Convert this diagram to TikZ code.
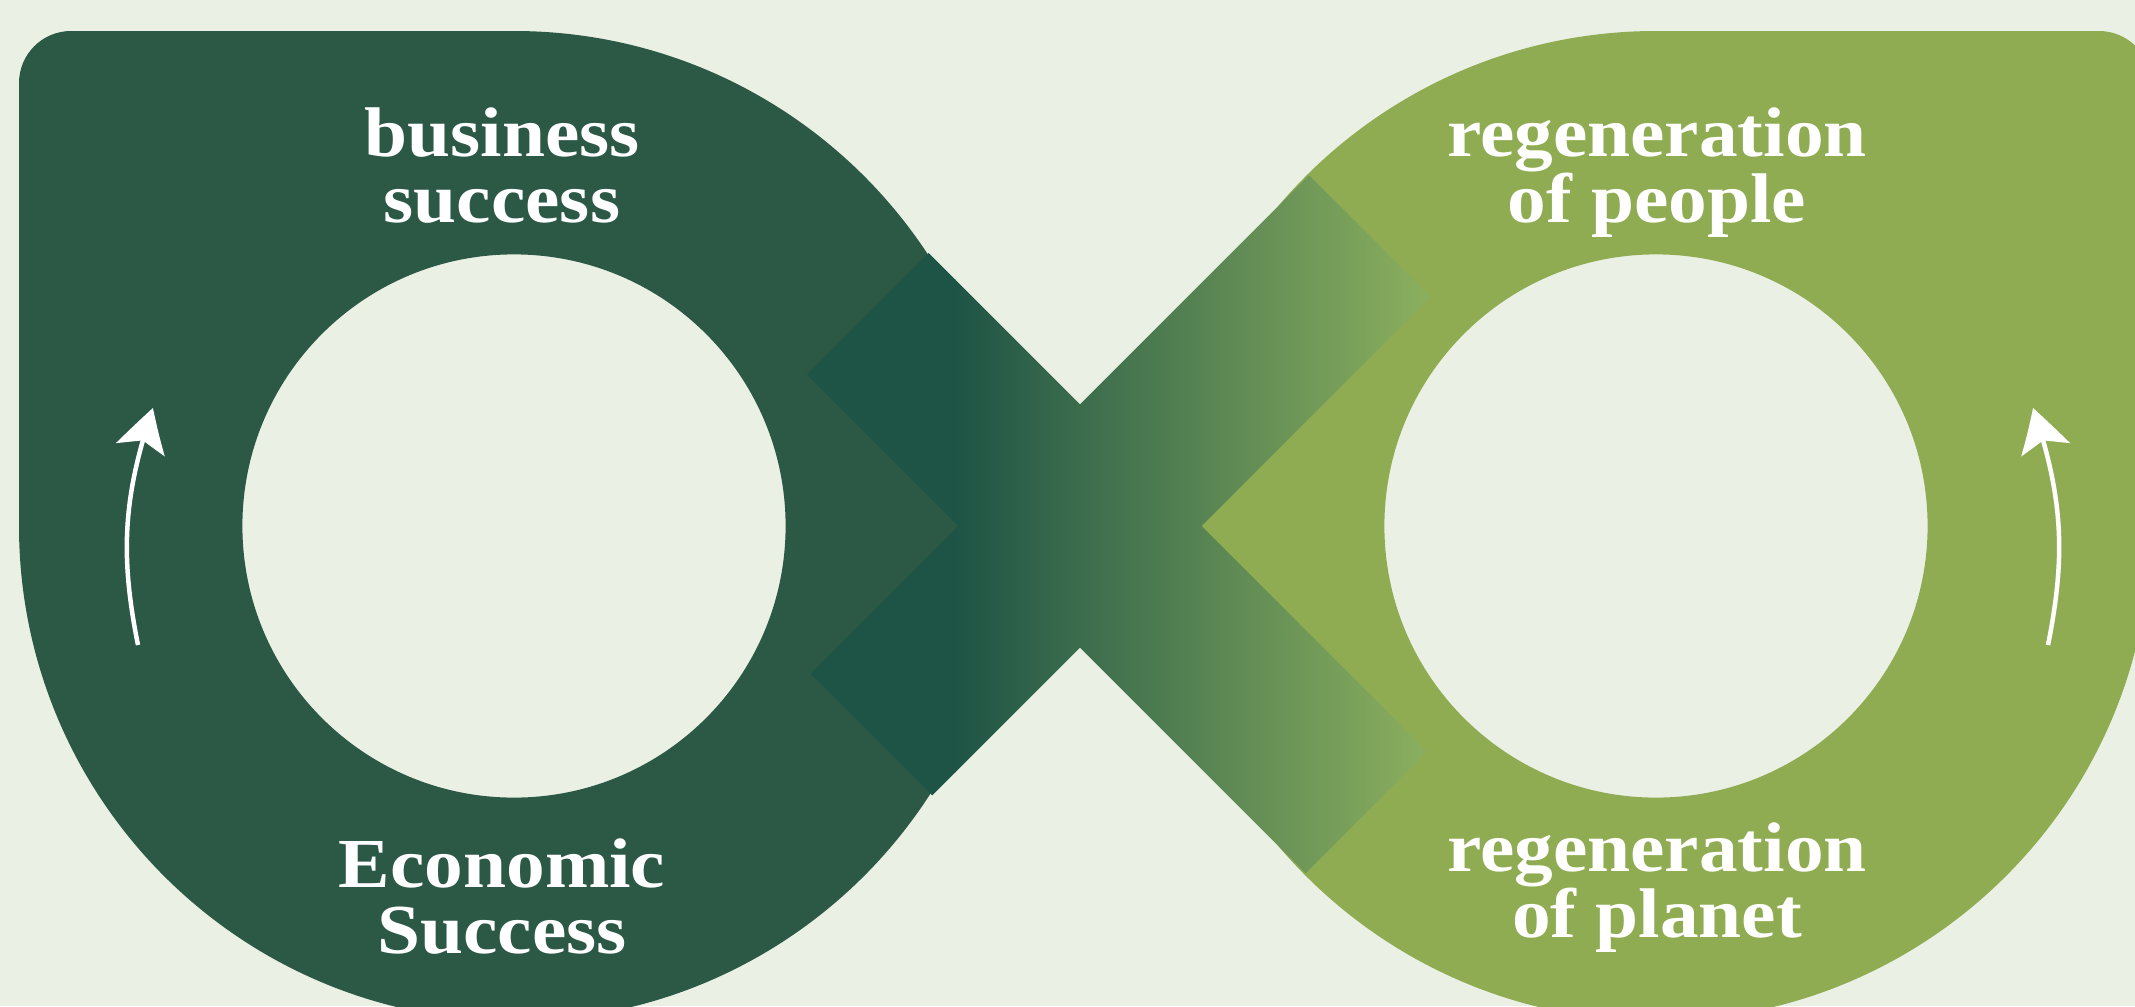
\documentclass[tikz,border=0pt]{standalone}
\usepackage{fontspec}
\newfontfamily\labelfont[FakeStretch=1.1]{Liberation Serif}
\usetikzlibrary{arrows.meta,bending}
\definecolor{paper}{HTML}{EAF0E4}
\definecolor{ringdark}{HTML}{2C5846}
\definecolor{ringlight}{HTML}{8FAC52}
\definecolor{banddark}{HTML}{1E5446}
\definecolor{bandlight}{HTML}{8AAE5E}

\begin{document}
\begin{tikzpicture}[
		ringlabel/.style={
			text=white,
			font=\labelfont\bfseries\fontsize{20}{18.6}\selectfont,
			align=center,
			inner sep=0pt,
			anchor=base
		},
		turnarrow/.style={
			-{Stealth[length=4.4mm,width=5mm,inset=1mm,bend]},
			draw=white,
			line width=0.45mm
		}
	]
		\useasboundingbox (0,0) rectangle (21.35,10.06);
		\fill[paper] (0,0) rectangle (21.35,10.06);

		\coordinate (lc) at (5.14,4.80);
		\coordinate (rc) at (16.56,4.80);
		\coordinate (xc) at (10.80,4.80);

		\fill[ringdark,even odd rule] (0.19,4.80) -- (0.19,9.23) arc[start angle=180,end angle=90,radius=0.52]
			-- (5.14,9.75) arc[start angle=90,end angle=-180,radius=4.95] -- cycle
			(lc) circle[radius=2.716];
		\fill[ringlight,even odd rule] (21.51,4.80) -- (21.51,9.23) arc[start angle=0,end angle=90,radius=0.52]
			-- (16.56,9.75) arc[start angle=90,end angle=360,radius=4.95] -- cycle
			(rc) circle[radius=2.716];

		\foreach \ang/\tfrom/\tto in {-45/-3.0/4.05,45/-2.95/4.1}{
			\begin{scope}
				\clip[shift={(xc)},rotate=\ang] (\tfrom,-0.86) rectangle (\tto,0.86);
				\fill[banddark] (7.9,0) rectangle (9.56,10.06);
				\shade[left color=banddark,right color=bandlight] (9.55,0) rectangle (14.2,10.06);
				\fill[bandlight] (14.19,0) rectangle (14.7,10.06);
			\end{scope}
		}

		\coordinate (ltail) at (1.38,3.61);
		\coordinate (ltip) at (1.53,5.98);
		\coordinate (rtail) at (20.48,3.61);
		\coordinate (rtip) at (20.33,5.98);
		\draw[turnarrow] (ltail) to[bend left=15] (ltip);
		\draw[turnarrow] (rtail) to[bend right=15] (rtip);

		\node[ringlabel] (business) at (5.02,7.84) {business\\success};
		\node[ringlabel] (economic) at (5.02,0.53) {Economic\\Success};
		\node[ringlabel] (people) at (16.57,7.84) {regeneration\\of people};
		\node[ringlabel] (planet) at (16.57,0.69) {regeneration\\of planet};
	\end{tikzpicture}
\end{document}
